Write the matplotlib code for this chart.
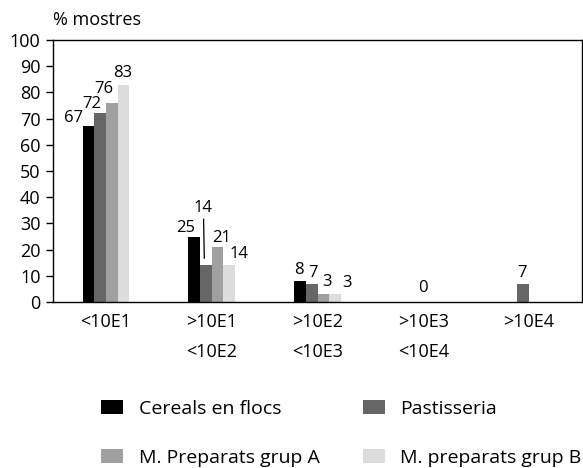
import matplotlib
matplotlib.use('Agg')
import matplotlib.pyplot as plt
from matplotlib.patches import Patch
import numpy as np

categories = ['<10E1', '>10E1\n<10E2', '>10E2\n<10E3', '>10E3\n<10E4', '>10E4']
series_names = ['Cereals en flocs', 'Pastisseria', 'M. Preparats grup A', 'M. preparats grup B']
cereals = [67, 25, 8, 0, 0]
pastisseria = [72, 14, 7, 0, 7]
prep_a = [76, 21, 3, 0, 0]
prep_b = [83, 14, 3, 0, 0]
yticks = list(range(0, 101, 10))

colors = ['#000000', '#666666', '#a0a0a0', '#dcdcdc']

# label placement (pixel offsets from bar top centre), None = no label
label_offsets = [
    [(-15, 8), (-9, 9), (-1, 11), None, None],
    [(-8.5, 9.5), 'leader', (1.5, 11), None, (-1, 11)],
    [(-8, 14), (4, 9), (4, 12), None, None],
    [(-1, 12), (9.5, 11), (12.5, 11), None, None],
]

plt.rcParams['font.family'] = ['Open Sans', 'DejaVu Sans']
plt.rcParams['font.size'] = 12

fig = plt.figure(figsize=(5.83, 4.68), dpi=100)
ax = fig.add_axes([53/583, 1-302/468, (582-53)/583, (302-40)/468])
x = np.arange(len(categories))
w = 0.11
values = [cereals, pastisseria, prep_a, prep_b]
for i, (vals, c) in enumerate(zip(values, colors)):
    xs = x + (i - 1.5) * w
    ax.bar(xs, vals, w, color=c, linewidth=0)
    for j, v in enumerate(vals):
        off = label_offsets[i][j]
        if off is None:
            continue
        if off == 'leader':
            ax.annotate(str(v), xy=(xs[j] - 0.014, v), xytext=(-1, 57),
                        textcoords='offset pixels', ha='center', va='center',
                        fontsize=12,
                        arrowprops=dict(arrowstyle='-', color='black', lw=0.9,
                                        shrinkA=0, shrinkB=5))
        else:
            ax.annotate(str(v), xy=(xs[j], v), xytext=off, fontsize=12,
                        textcoords='offset pixels', ha='center', va='center')

# single zero label for the empty group
ax.annotate(str(cereals[3]), xy=(x[3], cereals[3]), xytext=(0, 14), fontsize=12,
            textcoords='offset pixels', ha='center', va='center')

ax.set_xlim(-0.5, 4.5)
ax.set_ylim(0, 100)
ax.set_yticks(yticks)
ax.set_xticks(x)
ax.set_xticklabels(categories, linespacing=1.85, va='top', fontsize=13)
ax.tick_params(axis='x', length=0, pad=8)
ax.tick_params(axis='y', length=5, width=1, pad=4, direction='out', labelsize=13)
for s in ax.spines.values():
    s.set_linewidth(1)

fig.text(53/583, 1-20/468, '% mostres', ha='left', va='center', fontsize=13)

handles = [Patch(facecolor=colors[k], edgecolor='none', label=series_names[k])
           for k in (0, 2, 1, 3)]
fig.legend(handles=handles, ncol=2, loc='upper left', fontsize=14,
           bbox_to_anchor=(101/583, 1-400/468), frameon=False,
           borderpad=0, borderaxespad=0, handlelength=1.13, handleheight=0.72,
           handletextpad=0.82, labelspacing=1.6, columnspacing=2.2)

fig.savefig('out.png', dpi=100)
